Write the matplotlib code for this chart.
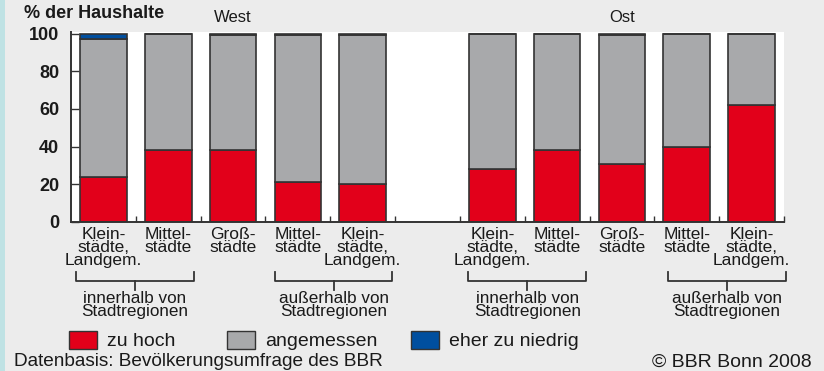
import matplotlib.pyplot as plt
from matplotlib.patches import Rectangle
from matplotlib.transforms import blended_transform_factory

# Bewertung der Wohnkosten, Anteile in % der Haushalte
categories = ["Klein-\nstädte,\nLandgem.", "Mittel-\nstädte", "Groß-\nstädte",
              "Mittel-\nstädte", "Klein-\nstädte,\nLandgem."]
regions = ["West", "Ost"]
series = ["zu hoch", "angemessen", "eher zu niedrig"]
colors = ["#e2001a", "#a8a9ab", "#004f9f"]

west_zu_hoch = [24, 38, 38, 21, 20]
west_angemessen = [73, 62, 61, 78, 79]
west_niedrig = [3, 0, 1, 1, 1]

ost_zu_hoch = [28, 38, 31, 40, 62]
ost_angemessen = [72, 62, 68, 60, 38]
ost_niedrig = [0, 0, 1, 0, 0]

groups = ["innerhalb von\nStadtregionen", "außerhalb von\nStadtregionen"]

plt.rcParams['font.family'] = ['Liberation Sans', 'DejaVu Sans']
BG = "#ececec"
INK = "#1a1a1a"
EDGE = "#333333"

W, H = 824, 371
fig = plt.figure(figsize=(W / 100, H / 100), dpi=100, facecolor=BG)
ax = fig.add_axes([71 / W, 1 - 222 / H, (784 - 71) / W, (222 - 32) / H])
ax.set_facecolor("white")

# west in slots 0-4, east in slots 6-10, slot 5 stays empty
west_x = list(range(5))
ost_x = [i + 6 for i in range(5)]
width = 0.72

for xs, parts in [(west_x, [west_zu_hoch, west_angemessen, west_niedrig]),
                  (ost_x, [ost_zu_hoch, ost_angemessen, ost_niedrig])]:
    bottom = [0] * len(xs)
    for vals, col in zip(parts, colors):
        ax.bar(xs, vals, width, bottom=bottom, color=col,
               edgecolor=EDGE, linewidth=1.2, zorder=2)
        bottom = [b + v for b, v in zip(bottom, vals)]

ax.set_xlim(-0.5, 10.5)
ax.set_ylim(0, 100.8)

for s in ["top", "right"]:
    ax.spines[s].set_visible(False)
for s in ["left", "bottom"]:
    ax.spines[s].set_color("#333333")
    ax.spines[s].set_linewidth(1.4)

ax.set_yticks([0, 20, 40, 60, 80, 100])
ax.tick_params(axis="y", direction="in", length=6, width=1, color="#333333",
               pad=8.5, labelsize=13, labelcolor=INK)
for lab in ax.get_yticklabels():
    lab.set_fontweight("bold")

ax.set_xticks(west_x + ost_x)
ax.set_xticklabels(categories + categories, fontsize=12.5, color=INK,
                   linespacing=0.83)
ax.tick_params(axis="x", which="major", length=0, pad=3.5)
ax.set_xticks([i + 0.5 for i in range(11)], minor=True)
ax.tick_params(axis="x", which="minor", direction="in", length=4, width=1,
               color="#333333")

# brackets below the category labels
tr = blended_transform_factory(ax.transData, fig.transFigure)
def fy(py):
    return 1 - py / H

bracket_spans = [(-0.43, 1.39), (2.64, 4.46), (5.63, 7.45), (8.71, 10.53)]
for i, (x0, x1) in enumerate(bracket_spans):
    xm = (x0 + x1) / 2
    ax.plot([x0, x0, x1, x1], [fy(271.5), fy(281), fy(281), fy(271.5)],
            color="#333333", lw=1.3, transform=tr, clip_on=False)
    ax.plot([xm, xm], [fy(281), fy(290)], color="#333333", lw=1.3,
            transform=tr, clip_on=False)
    ax.text(xm, fy(291), groups[i % 2], transform=tr, ha="center", va="top",
            fontsize=12.3, color=INK, linespacing=0.82)

# region headings above the middle bar of each block
for name, xs in zip(regions, [west_x, ost_x]):
    ax.text(xs[2], fy(18), name, transform=tr, ha="center", va="center",
            fontsize=12, color=INK)

fig.text(24 / W, fy(14), "% der Haushalte", fontsize=13, fontweight="bold",
         color=INK, ha="left", va="center")

# legend row
leg_x = [69, 227, 411]
for x0, col, name in zip(leg_x, colors, series):
    fig.patches.append(Rectangle((x0 / W, fy(349)), 28 / W, 18 / H,
                                 transform=fig.transFigure, facecolor=col,
                                 edgecolor=EDGE, linewidth=1.0))
    fig.text((x0 + 38) / W, fy(341), name, fontsize=14, color=INK,
             ha="left", va="center")

fig.text(14 / W, fy(362), "Datenbasis: Bevölkerungsumfrage des BBR",
         fontsize=13.7, color=INK, ha="left", va="center")
fig.text(812 / W, fy(362), "© BBR Bonn 2008", fontsize=14, color=INK,
         ha="right", va="center")

# narrow tinted strip along the left border
fig.patches.append(Rectangle((0, 0), 5 / W, 1, transform=fig.transFigure,
                             facecolor="#bfe2e4", edgecolor="none"))

fig.savefig("out.png", dpi=100, facecolor=BG)
